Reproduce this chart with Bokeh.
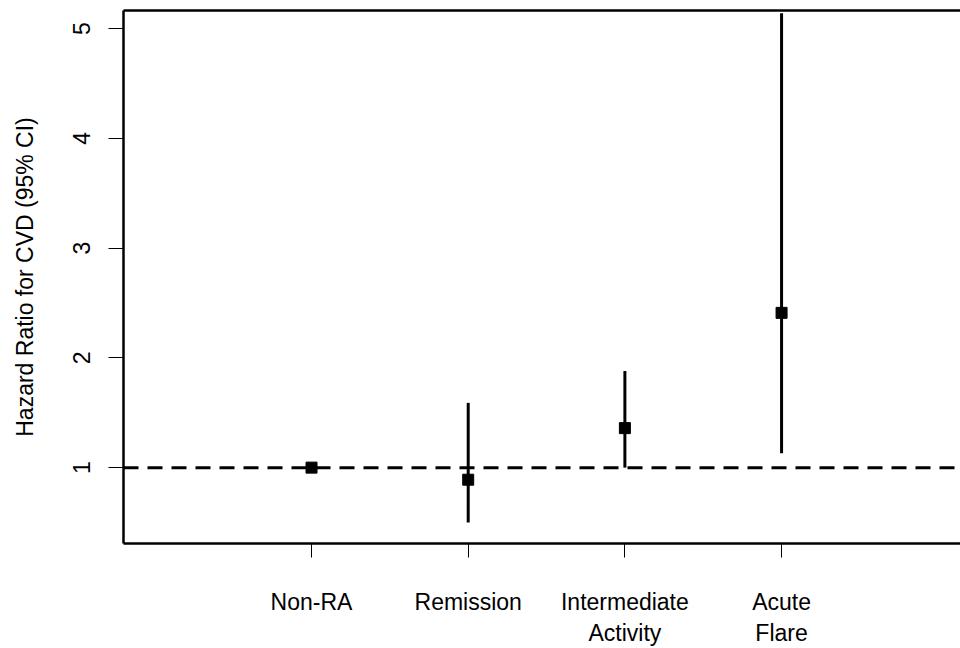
from bokeh.plotting import figure
from bokeh.models import FixedTicker, LinearAxis, Span, Range1d
from bokeh.embed import file_html
from bokeh.resources import INLINE

# Data
categories = ["Non-RA", "Remission", "Intermediate\nActivity", "Acute\nFlare"]
positions = [1, 2, 3, 4]
hazard_ratio = [1.00, 0.89, 1.36, 2.41]
ci_lower = [1.00, 0.50, 1.00, 1.13]
ci_upper = [1.00, 1.59, 1.88, 5.14]
y_ticks = [1, 2, 3, 4, 5]
reference_line = 1.0

FONT = "Liberation Sans"
FS = "23px"

p = figure(width=960, height=648, output_backend="svg", toolbar_location=None,
           x_range=Range1d(-0.2, 5.142), y_range=Range1d(0.309, 5.164),
           x_axis_location=None, y_axis_location=None,
           min_border_left=123, min_border_right=0, min_border_top=10, min_border_bottom=104)
p.outline_line_color = None
p.grid.visible = False
p.background_fill_color = "white"
p.border_fill_color = "white"

# Left axis
yaxis = LinearAxis(ticker=FixedTicker(ticks=y_ticks))
yaxis.axis_label = "Hazard Ratio for CVD (95% CI)"
yaxis.axis_label_text_font = FONT
yaxis.axis_label_text_font_size = FS
yaxis.axis_label_text_font_style = "normal"
yaxis.axis_label_text_color = "black"
yaxis.axis_label_standoff = 33
yaxis.major_label_orientation = "vertical"
yaxis.major_label_text_font = FONT
yaxis.major_label_text_font_size = FS
yaxis.major_label_text_color = "black"
yaxis.major_label_standoff = 18
yaxis.axis_line_width = 2.5
yaxis.axis_line_color = "black"
yaxis.major_tick_out = 15
yaxis.major_tick_in = 0
yaxis.major_tick_line_width = 1
yaxis.major_tick_line_color = "black"
yaxis.minor_tick_line_color = None
p.add_layout(yaxis, "left")

# Bottom axis
xaxis = LinearAxis(ticker=FixedTicker(ticks=positions))
xaxis.major_label_overrides = {pos: lab for pos, lab in zip(positions, categories)}
xaxis.major_label_text_font = FONT
xaxis.major_label_text_font_size = FS
xaxis.major_label_text_color = "black"
xaxis.major_label_standoff = 31
xaxis.axis_line_width = 2.5
xaxis.axis_line_color = "black"
xaxis.major_tick_out = 14
xaxis.major_tick_in = 0
xaxis.major_tick_line_width = 1
xaxis.major_tick_line_color = "black"
xaxis.minor_tick_line_color = None
p.add_layout(xaxis, "below")

# Top border (axis line only)
taxis = LinearAxis(ticker=FixedTicker(ticks=[]))
taxis.axis_line_width = 2.5
taxis.axis_line_color = "black"
taxis.major_tick_line_color = None
taxis.minor_tick_line_color = None
taxis.major_label_text_font_size = "0px"
taxis.major_label_standoff = 0
p.add_layout(taxis, "above")

# Reference line
p.add_layout(Span(location=reference_line, dimension="width", line_color="black",
                  line_width=3, line_dash="15 9"))

# CI bars
p.segment(x0=positions, y0=ci_lower, x1=positions, y1=ci_upper,
          line_color="black", line_width=3)
# Points
p.scatter(positions, hazard_ratio, marker="square", size=11,
          fill_color="black", line_color="black")

open("out.html", "w").write(file_html(p, INLINE))
